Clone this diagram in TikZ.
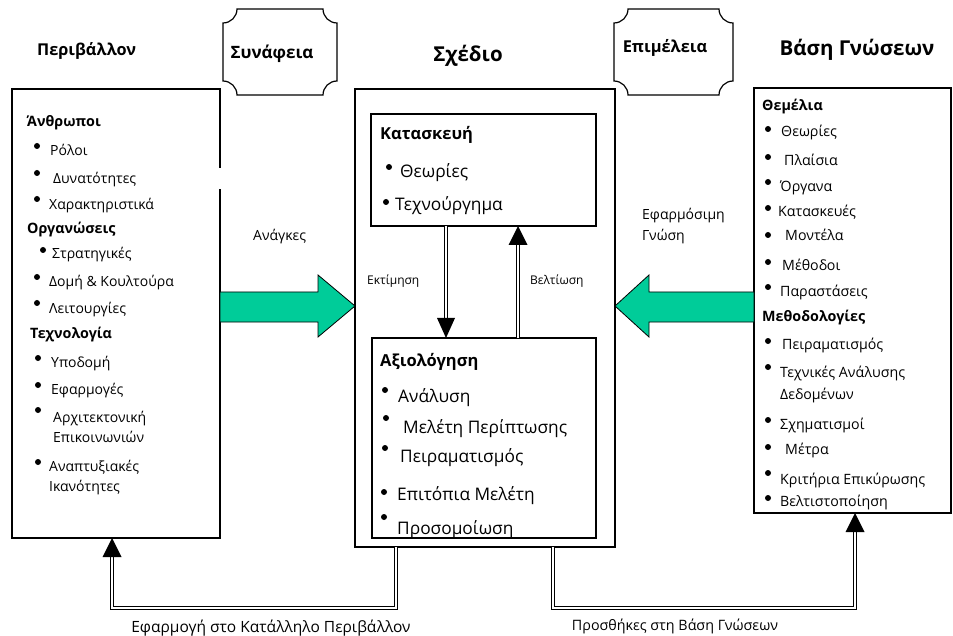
\documentclass[tikz,border=0pt]{standalone}
\usepackage{fontspec}
\setmainfont{Open Sans}
\usetikzlibrary{calc}

% list entry: [style] name, bullet x, bullet y, text x, baseline, text
\newcommand\bitem[7][itm]{%
  \fill (#3,#4) circle[radius=3pt];
  \node[#1] (#2) at (#5,#6) {#7};}
% plaque-shaped tab: x1, y1, x2, y2, notch radius
\newcommand\plaque[5]{%
  \draw[tab] (#1+#5,#2) -- (#3-#5,#2)
    .. controls (#3-#5,#2+0.55*#5) and (#3-0.55*#5,#2+#5) .. (#3,#2+#5)
    -- (#3,#4-#5)
    .. controls (#3-0.55*#5,#4-#5) and (#3-#5,#4-0.55*#5) .. (#3-#5,#4)
    -- (#1+#5,#4)
    .. controls (#1+#5,#4-0.55*#5) and (#1+0.55*#5,#4-#5) .. (#1,#4-#5)
    -- (#1,#2+#5)
    .. controls (#1+0.55*#5,#2+#5) and (#1+#5,#2+0.55*#5) .. (#1+#5,#2) -- cycle;}

\definecolor{flow}{RGB}{0,204,153}

\begin{document}
\begin{tikzpicture}[x=1pt,y=-1pt,
  frame/.style={draw, line width=2.6pt, inner sep=0, outer sep=0, anchor=north west},
  inbox/.style={draw, line width=1.8pt, inner sep=0, outer sep=0, anchor=north west},
  tab/.style={draw, line width=1.2pt, fill=white},
  itm/.style={font=\fontsize{14}{16}\selectfont, inner sep=0, anchor=base west},
  ritm/.style={itm, font=\fontsize{14.2}{16}\selectfont},
  hd/.style={itm, font=\bfseries\fontsize{14.3}{16}\selectfont},
  citm/.style={itm, font=\fontsize{17.3}{20}\selectfont},
  chd/.style={itm, font=\bfseries\fontsize{16.5}{20}\selectfont},
  ttl/.style={font=\bfseries\fontsize{20.5}{24}\selectfont, inner sep=0, anchor=base},
  lbl/.style={itm, font=\fontsize{12}{15}\selectfont},
  flowarrow/.style={draw, line width=0.8pt, fill=flow, line join=miter},
  dbl/.style={draw, line width=1.2pt, double, double distance=2pt, line join=miter},
  head/.style={fill=black}]

\fill[white] (0,0) rectangle (953,636);
\useasboundingbox (0,0) rectangle (953,636);

% ---------- titles ----------
\node[ttl, font=\bfseries\fontsize{16.3}{20}\selectfont, anchor=base west] (tenv) at (37,56) {Περιβάλλον};
\node[ttl] (tdes) at (468,62) {Σχέδιο};
\node[ttl] (tkb) at (857,56) {Βάση Γνώσεων};

% ---------- three main frames ----------
\node[frame, minimum width=208pt, minimum height=449pt] (env) at (12,89) {};
\fill[white] (216,168) rectangle (225,189);
\node[frame, minimum width=260pt, minimum height=458pt] (des) at (355,89) {};
\node[frame, minimum width=197pt, minimum height=425pt] (kb) at (754,88) {};

% ---------- tabs ----------
\plaque{223}{9}{337}{95}{14}
\node[ttl, font=\bfseries\fontsize{17}{20}\selectfont] (rel) at (272,59) {Συνάφεια};
\plaque{614}{9}{733}{95}{14}
\node[ttl, font=\bfseries\fontsize{16.4}{20}\selectfont] (rig) at (665,53) {Επιμέλεια};

% ---------- environment ----------
\node[hd] (people) at (27,127) {Άνθρωποι};
\bitem{roles}{37}{146}{50}{156}{Ρόλοι}
\bitem{abil}{37}{173}{53}{184}{Δυνατότητες}
\bitem{chars}{37}{199}{49}{210}{Χαρακτηριστικά}
\node[hd] (orgs) at (27,234) {Οργανώσεις};
\bitem{strat}{43}{250}{52}{259}{Στρατηγικές}
\bitem{cult}{37}{277}{49}{287}{Δομή \& Κουλτούρα}
\bitem{proc}{37}{303}{49}{313}{Λειτουργίες}
\node[hd] (tech) at (30,338) {Τεχνολογία};
\bitem{infra}{38}{358}{51}{367}{Υποδομή}
\bitem{apps}{38}{385}{51}{394}{Εφαρμογές}
\bitem{arch}{38}{410}{53}{422}{Αρχιτεκτονική}
\node[itm] (arch2) at (53,442) {Επικοινωνιών};
\bitem{devc}{38}{462}{49}{471}{Αναπτυξιακές}
\node[itm] (devc2) at (49,491) {Ικανότητες};

% ---------- design: build / evaluate ----------
\node[inbox, minimum width=225pt, minimum height=112pt] (build) at (371,114) {};
\node[inbox, minimum width=224pt, minimum height=200pt] (eval) at (372,338) {};

\node[chd] (tbuild) at (380,140) {Κατασκευή};
\bitem[citm]{theo}{389}{167}{400}{178}{Θεωρίες}
\bitem[citm]{arti}{386}{202}{395}{211}{Τεχνούργημα}

\node[chd] (teval) at (380,366) {Αξιολόγηση};
\bitem[citm]{anal}{385}{390}{398}{402}{Ανάλυση}
\bitem[citm]{case}{386}{418}{403}{433}{Μελέτη Περίπτωσης}
\bitem[citm]{expe}{385}{448}{400}{462}{Πειραματισμός}
\bitem[citm]{field}{384}{492}{397}{500}{Επιτόπια Μελέτη}
\begin{scope}
  \clip (eval.north west) rectangle ([yshift=1pt]eval.south east);
  \bitem[citm]{simu}{384}{517}{397}{534}{Προσομοίωση}
\end{scope}

% assess (down) and refine (up)
\draw[dbl] (build.south -| 446,0) -- (446,318);
\fill[head] (eval.north -| 446,0) -- ++(-9,-20) -- ++(18,0) -- cycle;
\draw[dbl] (eval.north -| 518,0) -- (518,245);
\fill[head] (build.south -| 518,0) -- ++(-9.5,19) -- ++(19,0) -- cycle;
\node[lbl] (assess) at (367,285) {Εκτίμηση};
\node[lbl] (refine) at (530,285) {Βελτίωση};

% ---------- knowledge base ----------
\node[hd] (found) at (762,111) {Θεμέλια};
\bitem[ritm]{kth}{768}{129}{781}{137}{Θεωρίες}
\bitem[ritm]{kfr}{768}{157}{784}{166}{Πλαίσια}
\bitem[ritm]{kin}{768}{182}{780}{192}{Όργανα}
\bitem[ritm]{kco}{768}{208}{778}{217}{Κατασκευές}
\bitem[ritm]{kmo}{768}{235}{785}{241}{Μοντέλα}
\bitem[ritm]{kme}{768}{262}{782}{271}{Μέθοδοι}
\bitem[ritm]{kre}{768}{287}{780}{297}{Παραστάσεις}
\node[hd] (meth) at (762,322) {Μεθοδολογίες};
\bitem[ritm]{kex}{768}{341}{782}{349}{Πειραματισμός}
\bitem[ritm]{kda}{768}{367}{780}{377}{Τεχνικές Ανάλυσης}
\node[ritm] (kda2) at (780,399) {Δεδομένων};
\bitem[ritm]{kfo}{768}{420}{780}{429}{Σχηματισμοί}
\bitem[ritm]{kmea}{768}{447}{785}{454}{Μέτρα}
\bitem[ritm]{kva}{768}{473}{780}{484}{Κριτήρια Επικύρωσης}
\bitem[ritm]{kop}{768}{498}{780}{506}{Βελτιστοποίηση}

% ---------- relevance and rigor flows ----------
\draw[flowarrow] (env.east |- 0,292) -- (318,292) -- (318,275) -- (des.west |- 0,306)
  -- (318,337) -- (318,322) -- (env.east |- 0,322) -- cycle;
\node[itm] (needs) at (253,241) {Ανάγκες};

\draw[flowarrow] (kb.west |- 0,292) -- (649,292) -- (649,275) -- (des.east |- 0,306)
  -- (649,337) -- (649,322) -- (kb.west |- 0,322) -- cycle;
\node[itm] (appk) at (642,220) {Εφαρμόσιμη};
\node[itm] (appk2) at (642,241) {Γνώση};

% ---------- feedback loops at the bottom ----------
\draw[dbl] (des.south -| 396,0) -- (396,608) -- (112,608) -- (112,557);
\fill[head] (env.south -| 112,0) -- ++(-9.5,19) -- ++(19,0) -- cycle;
\node[itm, anchor=base, font=\fontsize{15.5}{17}\selectfont] (field2env) at (271,632) {Εφαρμογή στο Κατάλληλο Περιβάλλον};

\draw[dbl] (des.south -| 553,0) -- (553,608) -- (855,608) -- (855,531);
\fill[head] (kb.south -| 855,0) -- ++(-9.5,19) -- ++(19,0) -- cycle;
\node[itm, anchor=base, font=\fontsize{14.3}{17}\selectfont] (addkb) at (675,630) {Προσθήκες στη Βάση Γνώσεων};

\end{tikzpicture}
\end{document}
